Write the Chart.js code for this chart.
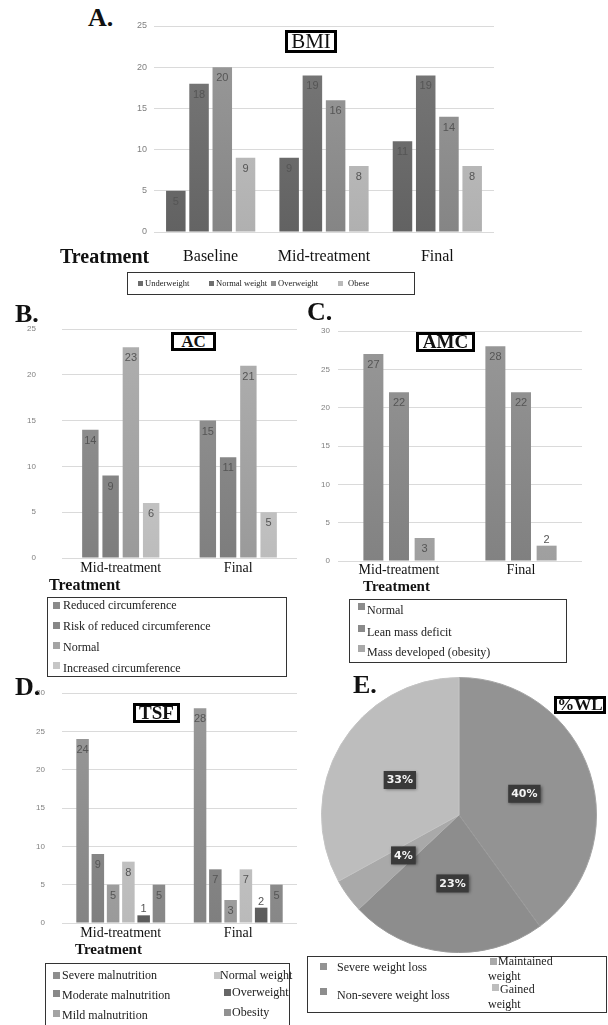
<!DOCTYPE html>
<html>
<head>
<meta charset="utf-8">
<script src="https://cdn.jsdelivr.net/npm/chart.js@4.4.0/dist/chart.umd.min.js"></script>
<style>
body{margin:0;width:608px;height:1025px;overflow:hidden;background:#fff;position:relative;font-family:"Liberation Serif",serif;color:#111;}
.box{position:absolute;}
.let{position:absolute;font:bold 26px/26px "Liberation Serif",serif;color:#111;}
.ttl{position:absolute;border:3px solid #000;background:#fff;font-family:"Liberation Serif",serif;text-align:center;box-sizing:border-box;color:#111;}
.trt{position:absolute;font-family:"Liberation Serif",serif;font-weight:bold;color:#111;white-space:nowrap;}
.leg{position:absolute;border:1px solid #333;box-sizing:border-box;background:#fff;}
.it{position:absolute;white-space:nowrap;color:#222;}
.mk{position:absolute;}
</style>
</head>
<body>

<script>
// A. BMI
let bmiCats = ['Baseline', 'Mid-treatment', 'Final'];
let bmiNames = ['Underweight', 'Normal weight', 'Overweight', 'Obese'];
let bmiUnder = [5, 9, 11];
let bmiNormal = [18, 19, 19];
let bmiOver = [20, 16, 14];
let bmiObese = [9, 8, 8];

// B. AC
let acCats = ['Mid-treatment', 'Final'];
let acNames = ['Reduced circumference', 'Risk of reduced circumference', 'Normal', 'Increased circumference'];
let acReduced = [14, 15];
let acRisk = [9, 11];
let acNormal = [23, 21];
let acIncreased = [6, 5];

// C. AMC
let amcCats = ['Mid-treatment', 'Final'];
let amcNames = ['Normal', 'Lean mass deficit', 'Mass developed (obesity)'];
let amcNormal = [27, 28];
let amcDeficit = [22, 22];
let amcObesity = [3, 2];

// D. TSF
let tsfCats = ['Mid-treatment', 'Final'];
let tsfNames = ['Severe malnutrition', 'Moderate malnutrition', 'Mild malnutrition', 'Normal weight', 'Overweight', 'Obesity'];
let tsfSevere = [24, 28];
let tsfModerate = [9, 7];
let tsfMild = [5, 3];
let tsfNormal = [8, 7];
let tsfOver = [1, 2];
let tsfObesity = [5, 5];

// E. %WL
let wlNames = ['Severe weight loss', 'Non-severe weight loss', 'Maintained weight', 'Gained weight'];
let wlValues = [40, 23, 4, 33];

// greys
const bmiColors = ['#6c6c6c', '#6e6e6e', '#8f8f8f', '#bababa'];
const acColors = ['#8a8a8a', '#878787', '#a4a4a4', '#c6c6c6'];
const amcColors = ['#8c8c8c', '#8a8a8a', '#a9a9a9'];
const tsfColors = ['#8e8e8e', '#898989', '#a4a4a4', '#c4c4c4', '#666666', '#919191'];
const wlColors = ['#939393', '#8d8d8d', '#a9a9a9', '#bdbdbd'];

function shade(hex, amt) {
  const v = Math.max(0, Math.min(255, parseInt(hex.slice(1, 3), 16) + amt));
  return 'rgb(' + v + ',' + v + ',' + v + ')';
}

// light at the top, a bit darker at the base, like the Excel fill
function barFill(color) {
  return c => {
    const area = c.chart.chartArea;
    if (!area) return color;
    const g = c.chart.ctx.createLinearGradient(0, area.top, 0, area.bottom);
    g.addColorStop(0, shade(color, 12));
    g.addColorStop(1, shade(color, -10));
    return g;
  };
}

const barLabels = {
  id: 'barLabels',
  afterDatasetsDraw(chart) {
    const ctx = chart.ctx;
    ctx.save();
    ctx.font = '11px "Liberation Sans"';
    ctx.fillStyle = '#555';
    ctx.textAlign = 'center';
    ctx.textBaseline = 'middle';
    chart.data.datasets.forEach((ds, i) => {
      chart.getDatasetMeta(i).data.forEach((bar, j) => {
        let y = bar.y + 11;
        if (y + 5 > bar.base) y = bar.y - 6;
        ctx.fillText(ds.data[j], bar.x, y);
      });
    });
    ctx.restore();
  }
};

const pieLabels = {
  id: 'pieLabels',
  afterDatasetsDraw(chart) {
    const ctx = chart.ctx;
    ctx.save();
    ctx.font = 'bold 11px "DejaVu Sans"';
    ctx.textAlign = 'center';
    ctx.textBaseline = 'middle';
    chart.getDatasetMeta(0).data.forEach((arc, j) => {
      const p = arc.getCenterPoint();
      const t = chart.data.datasets[0].data[j] + '%';
      const w = ctx.measureText(t).width + 6;
      ctx.shadowColor = 'rgba(0,0,0,0.45)';
      ctx.shadowBlur = 3;
      ctx.shadowOffsetX = 1;
      ctx.shadowOffsetY = 1;
      ctx.fillStyle = '#3a3a3a';
      ctx.fillRect(p.x - w / 2, p.y - 9, w, 18);
      ctx.shadowColor = 'transparent';
      ctx.fillStyle = '#f4f4f4';
      ctx.fillText(t, p.x, p.y + 0.5);
    });
    ctx.restore();
  }
};

function addCanvas(g) {
  const d = document.createElement('div');
  d.className = 'box';
  d.style.left = g.left + 'px';
  d.style.top = g.top + 'px';
  const c = document.createElement('canvas');
  c.width = g.w;
  c.height = g.h;
  d.appendChild(c);
  document.body.appendChild(d);
  return c;
}

function barChart(g, cats, names, series, colors) {
  const c = addCanvas(g);
  return new Chart(c, {
    type: 'bar',
    data: {
      labels: cats,
      datasets: names.map((n, i) => ({
        label: n,
        data: series[i],
        backgroundColor: barFill(colors[i]),
        categoryPercentage: g.cat,
        barPercentage: g.bar
      }))
    },
    options: {
      responsive: false,
      animation: false,
      layout: { padding: { top: 8, right: g.pr, left: 0, bottom: 0 } },
      plugins: { legend: { display: false }, tooltip: { enabled: false } },
      scales: {
        x: {
          grid: { display: false, drawTicks: false },
          border: { display: false },
          ticks: { font: { family: 'Liberation Serif', size: g.xf }, color: '#111', padding: g.xp, maxRotation: 0 },
          afterFit: s => { s.height = g.xh; }
        },
        y: {
          min: 0,
          max: g.max,
          ticks: { stepSize: 5, font: { family: 'Liberation Sans', size: g.yf }, color: '#808080', padding: 0 },
          grid: { color: '#dadada', drawTicks: true, tickLength: g.yp, tickColor: 'rgba(0,0,0,0)' },
          border: { display: false },
          afterFit: s => { s.width = g.yw; }
        }
      }
    },
    plugins: [barLabels]
  });
}

barChart({left: 120, top: 18, w: 382, h: 254, yw: 34, yp: 7, yf: 9, xh: 40, xp: 15, xf: 16, pr: 8, max: 25, cat: 0.82, bar: 0.84},
  bmiCats, bmiNames, [bmiUnder, bmiNormal, bmiOver, bmiObese], bmiColors);
barChart({left: 20, top: 321, w: 285, h: 267, yw: 42, yp: 26, yf: 8, xh: 30, xp: 2, xf: 14, pr: 8, max: 25, cat: 0.69, bar: 0.81},
  acCats, acNames, [acReduced, acRisk, acNormal, acIncreased], acColors);
barChart({left: 305, top: 323, w: 285, h: 268, yw: 33, yp: 8, yf: 8, xh: 30, xp: 1, xf: 14, pr: 8, max: 30, cat: 0.63, bar: 0.78},
  amcCats, amcNames, [amcNormal, amcDeficit, amcObesity], amcColors);
barChart({left: 20, top: 685, w: 285, h: 268, yw: 42, yp: 17, yf: 8, xh: 30, xp: 2, xf: 14, pr: 8, max: 30, cat: 0.78, bar: 0.82},
  tsfCats, tsfNames, [tsfSevere, tsfModerate, tsfMild, tsfNormal, tsfOver, tsfObesity], tsfColors);

// pie
const pc = addCanvas({left: 321, top: 677, w: 276, h: 276});
new Chart(pc, {
  type: 'pie',
  data: {
    labels: wlNames,
    datasets: [{ data: wlValues, backgroundColor: wlColors, borderColor: ['#a4a4a4', '#9a9a9a', '#b0b0b0', '#c4c4c4'], borderWidth: 1 }]
  },
  options: {
    responsive: false,
    animation: false,
    layout: { padding: 0 },
    plugins: { legend: { display: false }, tooltip: { enabled: false } }
  },
  plugins: [pieLabels]
});

function text(cls, txt, css) {
  const d = document.createElement('div');
  d.className = cls;
  d.textContent = txt;
  Object.assign(d.style, css);
  document.body.appendChild(d);
  return d;
}

// panel letters
text('let', 'A.', {left: '88px', top: '5px'});
text('let', 'B.', {left: '15px', top: '301px'});
text('let', 'C.', {left: '307px', top: '299px'});
text('let', 'D.', {left: '15px', top: '674px'});
text('let', 'E.', {left: '353px', top: '672px'});

// boxed titles
text('ttl', 'BMI', {left: '285px', top: '30px', width: '52px', height: '23px', font: '21px/17px "Liberation Serif"'});
text('ttl', 'AC', {left: '171px', top: '332px', width: '45px', height: '19px', font: 'bold 17px/13px "Liberation Serif"'});
text('ttl', 'AMC', {left: '416px', top: '332px', width: '59px', height: '20px', font: 'bold 19px/14px "Liberation Serif"'});
text('ttl', 'TSF', {left: '133px', top: '703px', width: '47px', height: '20px', font: 'bold 19px/14px "Liberation Serif"'});
text('ttl', '%WL', {left: '554px', top: '696px', width: '52px', height: '18px', font: 'bold 17px/12px "Liberation Serif"'});

// axis titles
text('trt', 'Treatment', {left: '60px', top: '246px', font: 'bold 20px/20px "Liberation Serif"'});
text('trt', 'Treatment', {left: '49px', top: '577px', font: 'bold 16px/16px "Liberation Serif"'});
text('trt', 'Treatment', {left: '363px', top: '579px', font: 'bold 15px/15px "Liberation Serif"'});
text('trt', 'Treatment', {left: '75px', top: '942px', font: 'bold 15px/15px "Liberation Serif"'});

// legends: pos = [markerX, markerY, textX, textY, wrapWidth, indent]
function legend(box, names, colors, pos, font, mk) {
  const d = document.createElement('div');
  d.className = 'leg';
  Object.assign(d.style, box);
  document.body.appendChild(d);
  names.forEach((n, i) => {
    const p = pos[i];
    const m = document.createElement('div');
    m.className = 'mk';
    m.style.left = p[0] + 'px';
    m.style.top = p[1] + 'px';
    m.style.width = mk + 'px';
    m.style.height = mk + 'px';
    m.style.background = colors[i];
    d.appendChild(m);
    const t = document.createElement('div');
    t.className = 'it';
    t.textContent = n;
    t.style.left = p[2] + 'px';
    t.style.top = p[3] + 'px';
    t.style.font = font;
    if (p[4]) {
      t.style.whiteSpace = 'normal';
      t.style.width = p[4] + 'px';
      t.style.textIndent = p[5] + 'px';
    }
    d.appendChild(t);
  });
  return d;
}

legend({left: '127px', top: '272px', width: '288px', height: '23px'}, bmiNames, bmiColors,
  [[10, 8, 17, 5], [81, 8, 88, 5], [143, 8, 150, 5], [210, 8, 220, 5]], '8.5px/10px "Liberation Serif"', 5);
legend({left: '47px', top: '597px', width: '240px', height: '80px'}, acNames, acColors,
  [[5, 4, 15, 0], [5, 24, 15, 21], [5, 44, 15, 42], [5, 64, 15, 63]], '12px/14px "Liberation Serif"', 7);
legend({left: '349px', top: '599px', width: '218px', height: '64px'}, amcNames, amcColors,
  [[8, 3, 17, 3], [8, 25, 17, 25], [8, 45, 17, 45]], '12px/14px "Liberation Serif"', 7);
legend({left: '45px', top: '963px', width: '245px', height: '90px'}, tsfNames, tsfColors,
  [[7, 8, 16, 4], [7, 26, 16, 24], [7, 46, 16, 44], [168, 8, 174, 4], [178, 25, 186, 21], [178, 45, 186, 41]],
  '12px/14px "Liberation Serif"', 7);
legend({left: '307px', top: '956px', width: '300px', height: '57px'}, wlNames, wlColors,
  [[12, 6, 29, 3], [12, 31, 29, 31], [182, 1, 180, -3, 72, 10], [184, 27, 180, 25, 72, 12]],
  '12px/15px "Liberation Serif"', 7);
</script>
</body>
</html>
